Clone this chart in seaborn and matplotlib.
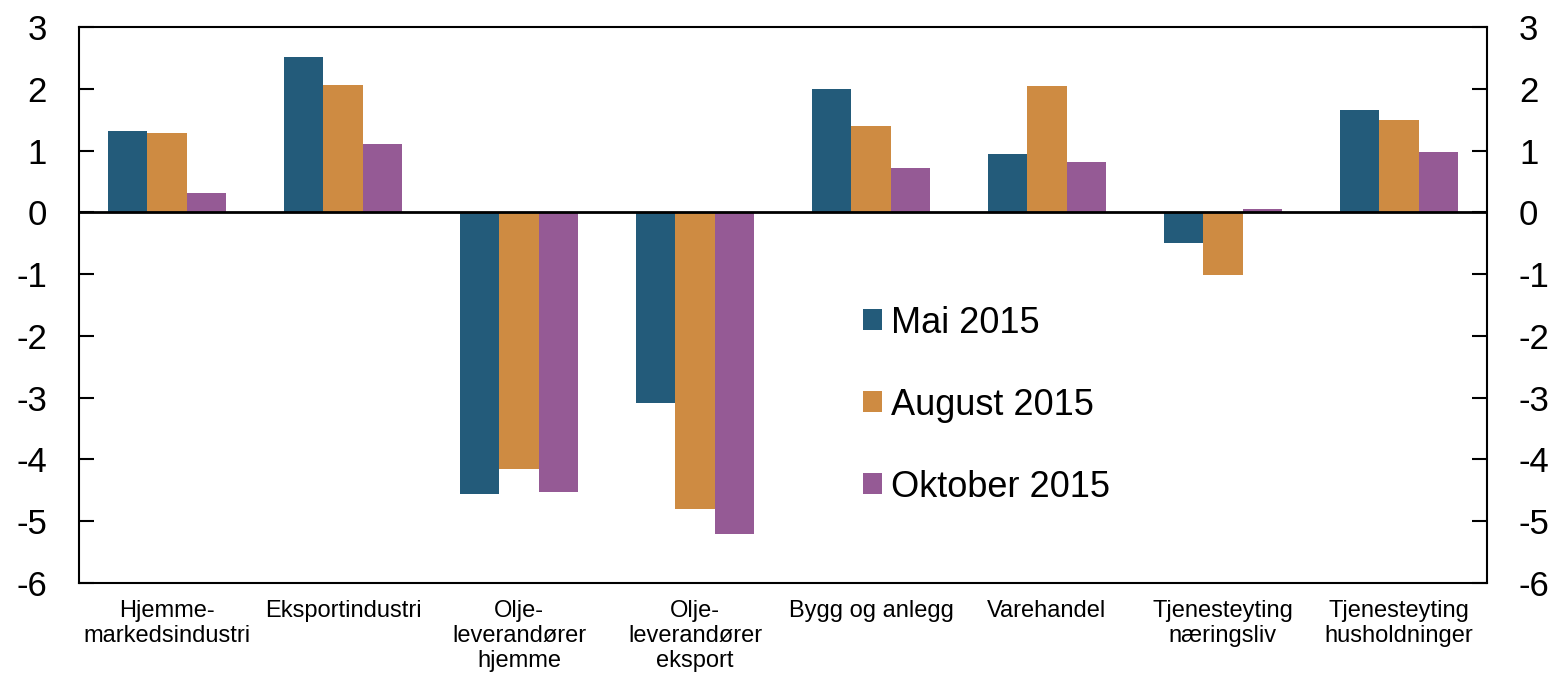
import numpy as np
import pandas as pd
import matplotlib.pyplot as plt
import seaborn as sns

categories = ['Hjemme-\nmarkedsindustri', 'Eksportindustri', 'Olje-\nleverandører\nhjemme',
              'Olje-\nleverandører\neksport', 'Bygg og anlegg', 'Varehandel',
              'Tjenesteyting\nnæringsliv', 'Tjenesteyting\nhusholdninger']
series = ['Mai 2015', 'August 2015', 'Oktober 2015']
mai = [1.31, 2.51, -4.56, -3.08, 1.99, 0.95, -0.49, 1.65]
aug = [1.29, 2.06, -4.16, -4.81, 1.39, 2.04, -1.02, 1.49]
okt = [0.31, 1.10, -4.53, -5.20, 0.71, 0.81, 0.06, 0.97]
yticks = [-6, -5, -4, -3, -2, -1, 0, 1, 2, 3]
colors = ['#235B7A', '#CE8B42', '#955A95']

rows = []
for name, vals in zip(series, [mai, aug, okt]):
    for c, v in zip(categories, vals):
        rows.append([c, name, v])
df = pd.DataFrame(rows, columns=['kategori', 'periode', 'verdi'])

sns.set_style('white')
plt.rcParams['font.family'] = ['Liberation Sans', 'DejaVu Sans']
plt.rcParams['text.color'] = 'black'
plt.rcParams['xtick.color'] = 'black'
plt.rcParams['ytick.color'] = 'black'
plt.rcParams['axes.unicode_minus'] = False

fig = plt.figure(figsize=(15.55, 6.77), dpi=100)
ax = fig.add_axes([79 / 1555, 1 - 583 / 677, 1408 / 1555, 556 / 677])

sns.barplot(data=df, x='kategori', y='verdi', hue='periode', hue_order=series,
            order=categories, palette=colors, width=0.67, saturation=1,
            edgecolor='none', linewidth=0, ax=ax)

ax.axhline(0, color='black', lw=2, zorder=3)
ax.set_xlim(-0.5, 7.5)
ax.set_ylim(-6, 3)
ax.set_yticks(yticks)
ax.set_yticklabels([str(t) for t in yticks])
ax.set_xlabel('')
ax.set_ylabel('')

for s in ax.spines.values():
    s.set_color('black')
    s.set_linewidth(1.5)

ax.tick_params(axis='y', direction='in', length=11, width=1.5, labelsize=25,
               left=True, right=True, labelleft=True, labelright=True, pad=23)
ax.tick_params(axis='x', length=0, labelsize=17, pad=12)
ax.set_xticks(range(len(categories)))
ax.set_xticklabels(categories, linespacing=1.2)

ax.legend(loc='center left', bbox_to_anchor=(0.557, 0.32), frameon=False,
          fontsize=26, handlelength=0.53, handleheight=0.53, handletextpad=0.25,
          labelspacing=1.3, borderpad=0, borderaxespad=0)

fig.savefig('out.png', dpi=100)
